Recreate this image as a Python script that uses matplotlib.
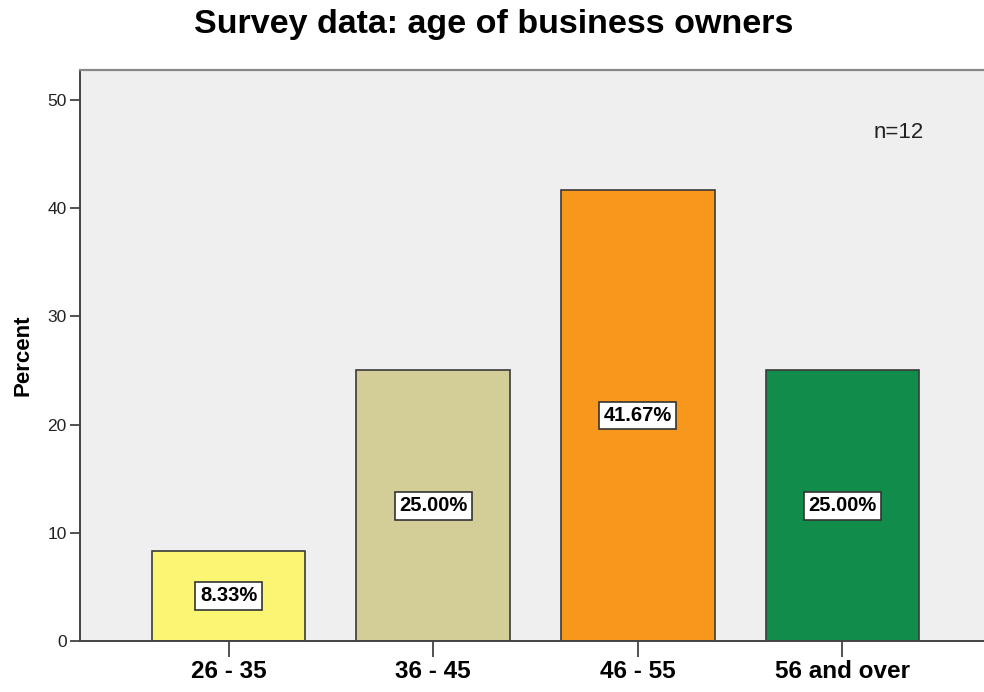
import matplotlib.pyplot as plt

# age groups and their share of respondents (%)
age_groups = ['26 - 35', '36 - 45', '46 - 55', '56 and over']
percent = [8.33, 25.00, 41.67, 25.00]
bar_colors = ['#FAF573', '#D3CE97', '#F7981D', '#118C4B']
y_ticks = [0, 10, 20, 30, 40, 50]
n_total = 12

plt.rcParams['font.family'] = ['Liberation Sans', 'DejaVu Sans']

W, H = 984, 692
fig = plt.figure(figsize=(W / 100, H / 100), dpi=100)
ax = fig.add_axes([80 / W, 1 - 641 / H, 1 - 80 / W + 0.01, (641 - 70) / H])
ax.set_facecolor('#EFEFEF')

x = range(len(age_groups))
ax.bar(x, percent, width=0.75, color=bar_colors, edgecolor='#3a3a3a', linewidth=1.2, zorder=2)

# value boxes in the middle of each bar
for xi, v in zip(x, percent):
    ax.text(xi, v / 2, f'{v:.2f}%', ha='center', va='center', fontsize=14.5,
            fontweight='bold', zorder=3,
            bbox=dict(boxstyle='square,pad=0.22', facecolor='white',
                      edgecolor='#333333', linewidth=1.2))

ax.set_xlim(-0.726, 3.74)
ax.set_ylim(0, 52.77)
ax.set_xticks(list(x))
ax.set_xticklabels(age_groups, fontsize=17.5, fontweight='bold')
ax.set_yticks(y_ticks)
ax.set_yticklabels([str(t) for t in y_ticks], fontsize=12.5, color='#222222')
ax.tick_params(axis='x', length=11.5, width=1.2, color='#333333', pad=2)
ax.tick_params(axis='y', length=7.5, width=1.2, color='#333333', pad=2)

for side in ['left', 'bottom']:
    ax.spines[side].set_color('#444444')
    ax.spines[side].set_linewidth(1.4)
ax.spines['top'].set_color('#888888')
ax.spines['top'].set_linewidth(1.6)
ax.spines['right'].set_visible(False)

ax.set_ylabel('Percent', fontsize=16, fontweight='bold', labelpad=10)
fig.text(899 / W, 1 - 133 / H, f'n={n_total}', fontsize=16, color='#222222',
         ha='center', va='center')

fig.text(494 / W, 1 - 25 / H, 'Survey data: age of business owners', ha='center',
         va='center', fontsize=24.5, fontweight='bold')

fig.savefig('out.png', dpi=100)
